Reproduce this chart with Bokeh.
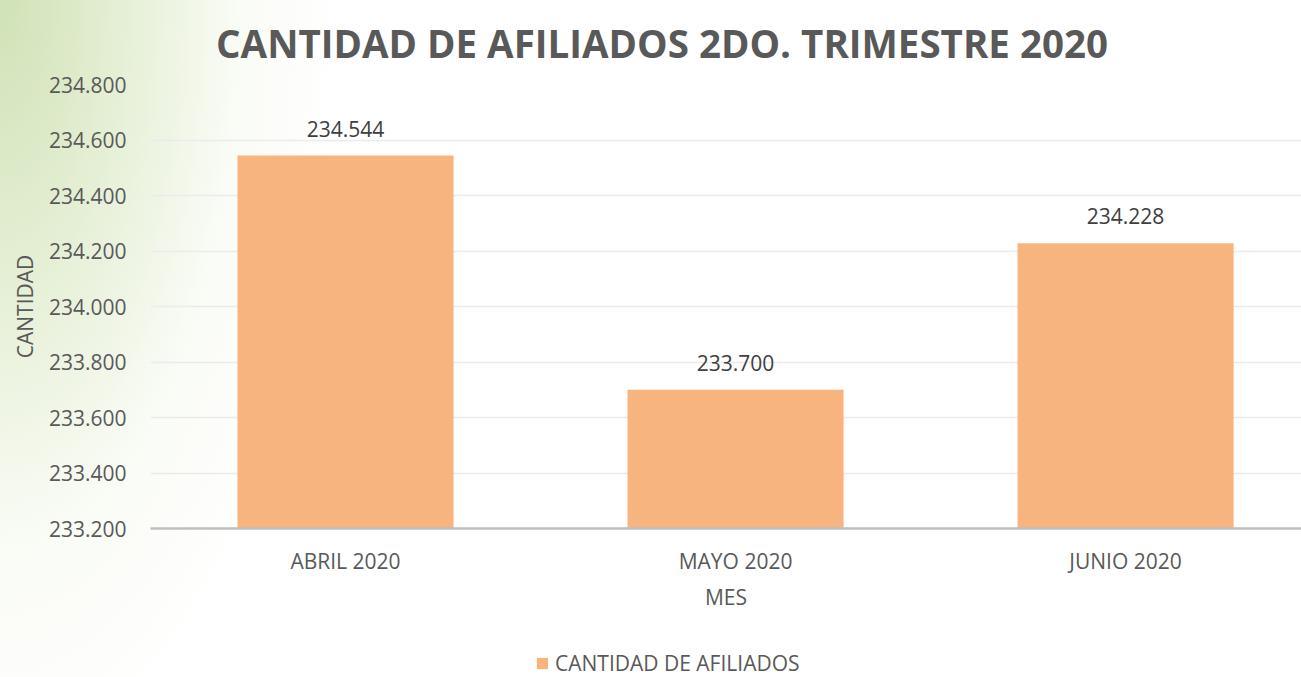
from bokeh.plotting import figure
from bokeh.layouts import column
from bokeh.models import (Range1d, FixedTicker, Label, LabelSet, Legend, LegendItem,
                          ColumnDataSource)
from bokeh.core.properties import value
from bokeh.embed import file_html
from bokeh.resources import INLINE

# ---- data ----
months = ["ABRIL 2020", "MAYO 2020", "JUNIO 2020"]
afiliados = [234544, 233700, 234228]
afiliados_labels = ["234.544", "233.700", "234.228"]
y_ticks = [233200, 233400, 233600, 233800, 234000, 234200, 234400, 234600, 234800]
y_tick_labels = ["233.200", "233.400", "233.600", "233.800", "234.000",
                 "234.200", "234.400", "234.600", "234.800"]
chart_title = "CANTIDAD DE AFILIADOS 2DO. TRIMESTRE 2020"
series_name = "CANTIDAD DE AFILIADOS"
x_title = "MES"
y_title = "CANTIDAD"

FONT = "Open Sans"
GREY = "#595959"
BAR = "#F8B47E"
H0, H1, H2 = 60, 570, 47
LEFT = 150


def gradient(dy):
    return {"background": f"radial-gradient(ellipse 340px 780px at 0px {dy}px, "
                          "rgba(208,226,182,1) 0%, rgba(224,236,205,0.85) 35%, "
                          "rgba(244,248,236,0.5) 70%, rgba(255,255,255,0) 100%)"}


def strip(h, dy):
    f = figure(width=1301, height=h, output_backend="svg", toolbar_location=None,
               x_range=Range1d(-10, -9), y_range=Range1d(0, 1), min_border=0,
               min_border_left=LEFT, x_axis_location=None, y_axis_location=None)
    f.outline_line_color = None
    f.border_fill_color = None
    f.background_fill_color = None
    f.grid.grid_line_color = None
    f.styles = gradient(dy)
    return f


xs = [i + 0.5 for i in range(len(months))]
src = ColumnDataSource(dict(x=xs, y=afiliados, lab=afiliados_labels))

# ---- title strip ----
p0 = strip(H0, 0)
p0.add_layout(Label(x=511.5, y=H0 - 42, x_units="screen", y_units="screen",
                    text=chart_title, text_align="center", text_baseline="alphabetic",
                    text_font=FONT, text_font_size="38.5px", text_font_style="bold",
                    text_color=GREY))

# ---- main chart ----
p = figure(width=1301, height=H1, output_backend="svg", toolbar_location=None,
           x_range=Range1d(0, 2.951), y_range=Range1d(y_ticks[0], y_ticks[-1]),
           min_border_left=LEFT, min_border_right=0, min_border_top=84 - H0,
           min_border_bottom=H0 + H1 - 528)
p.outline_line_color = None
p.border_fill_color = None
p.background_fill_color = None
p.styles = gradient(-H0)

r = p.vbar(x="x", top="y", bottom=y_ticks[0], width=0.554, source=src,
           fill_color=BAR, line_color=None)

p.add_layout(LabelSet(x="x", y="y", text="lab", source=src, y_offset=19,
                      text_align="center", text_baseline="alphabetic",
                      text_font=value(FONT), text_font_size="21px",
                      text_color="#404040"))

p.xaxis.ticker = FixedTicker(ticks=xs)
p.xaxis.major_label_overrides = {x: m for x, m in zip(xs, months)}
p.yaxis.ticker = FixedTicker(ticks=y_ticks)
p.yaxis.major_label_overrides = {t: l for t, l in zip(y_ticks, y_tick_labels)}
for ax in (p.xaxis, p.yaxis):
    ax.major_tick_line_color = None
    ax.minor_tick_line_color = None
    ax.major_tick_in = 0
    ax.major_tick_out = 0
    ax.major_label_text_font = FONT
    ax.major_label_text_font_size = "21px"
    ax.major_label_text_color = GREY
    ax.axis_label_text_font = FONT
    ax.axis_label_text_font_size = "21px"
    ax.axis_label_text_color = GREY
    ax.axis_label_text_font_style = "normal"
p.yaxis.axis_line_color = None
p.yaxis.major_label_standoff = 24
p.yaxis.axis_label = y_title
p.yaxis.axis_label_standoff = 7
p.xaxis.axis_line_color = "#BFBFBF"
p.xaxis.axis_line_width = 2.5
p.xaxis.major_label_standoff = 18
p.xaxis.axis_label = x_title
p.xaxis.axis_label_standoff = 5

p.xgrid.grid_line_color = None
p.ygrid.grid_line_color = "#EBEBEB"
p.ygrid.grid_line_width = 1.5

# ---- legend strip (same series, drawn out of view; only its legend entry shows) ----
p2 = strip(H2, -(H0 + H1))
r2 = p2.vbar(x="x", top="y", bottom=y_ticks[0], width=0.554, source=src,
             fill_color=BAR, line_color=None)
legend = Legend(items=[LegendItem(label=series_name, renderers=[r2])],
                location=(385, 0), orientation="horizontal",
                glyph_width=14, glyph_height=14, label_standoff=6,
                label_text_font=FONT, label_text_font_size="21px",
                label_text_color=GREY, border_line_color=None,
                background_fill_color=None, background_fill_alpha=0,
                padding=0, margin=0)
p2.add_layout(legend, "center")

open("out.html", "w").write(file_html(column(p0, p, p2, spacing=0), INLINE))
